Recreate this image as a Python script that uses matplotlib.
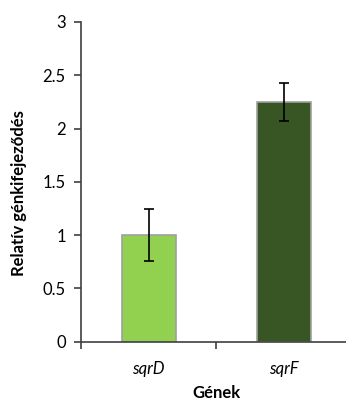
import numpy as np
import matplotlib.pyplot as plt

plt.rcParams['font.family'] = ['Lato', 'DejaVu Sans']

genes = ['sqrD', 'sqrF']
expression = [1.0, 2.25]
errors = [0.24, 0.18]
bar_colors = ['#92d050', '#375623']
y_ticks = [0, 0.5, 1, 1.5, 2, 2.5, 3]
y_tick_labels = ['0', '0.5', '1', '1.5', '2', '2.5', '3']

fig = plt.figure(figsize=(3.46, 4.01), dpi=100)
# axis runs slightly past the right edge of the canvas
ax = fig.add_axes([81 / 346, 1 - 341.5 / 401, 270 / 346, 319.5 / 401])

x = np.arange(len(genes))
ax.bar(x, expression, width=0.4, color=bar_colors, edgecolor='#a0a0a0',
       linewidth=1.2, zorder=2)
ax.errorbar(x, expression, yerr=errors, fmt='none', ecolor='black',
            elinewidth=1.2, capsize=3.5, capthick=1.2, zorder=3)

ax.set_xlim(-0.5, 1.5)
ax.set_ylim(0, 3)
ax.set_yticks(y_ticks)
ax.set_yticklabels(y_tick_labels)
ax.set_xticks([-0.5, 0.5, 1.5])
ax.set_xticklabels([])
ax.set_xticks(x, minor=True)
ax.set_xticklabels(genes, minor=True, style='italic', fontsize=12)
ax.tick_params(axis='x', which='minor', length=0, pad=14)
ax.tick_params(axis='x', which='major', length=5, width=1.2, color='#404040')
ax.tick_params(axis='y', length=5, width=1.2, color='#404040', labelsize=12, pad=6)

for side in ['top', 'right']:
    ax.spines[side].set_visible(False)
for side in ['left', 'bottom']:
    ax.spines[side].set_color('#404040')
    ax.spines[side].set_linewidth(1.2)

ax.set_ylabel('Relatív génkifejeződés', fontsize=12, fontweight='bold')
ax.yaxis.set_label_coords(-0.2, 0.465)
ax.set_xlabel('Gének', fontsize=12, fontweight='bold')
ax.xaxis.set_label_coords(0.5, -0.135)

fig.savefig('out.png', dpi=100)
